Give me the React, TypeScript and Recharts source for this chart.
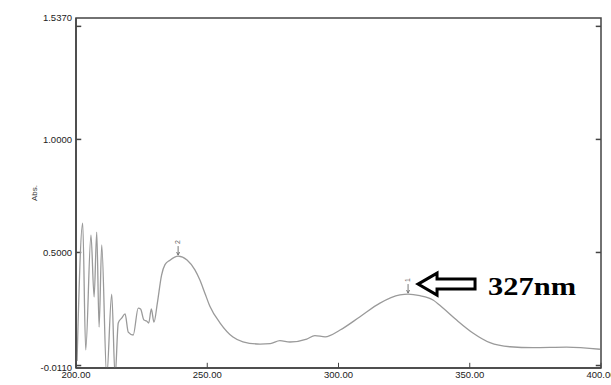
import { LineChart, Line, XAxis, YAxis, ReferenceLine, ReferenceDot, ReferenceArea, Label } from 'recharts';

// wavelength (nm) and absorbance
const wavelengths = [
  200.4, 202.55, 203.7, 205.7, 206.9, 207.9, 208.8, 209.8, 211.7, 213.6, 214.9, 216.1,
  217.4, 218.7, 219.9, 221.8, 223.7, 224.6, 225.9, 226.9, 227.7, 228.7, 229.7, 231.0,
  232.6, 233.9, 235.8, 238.9, 242.3, 245.3, 247.2, 249.1, 251.0, 254.9, 259.8, 263.6,
  270.1, 274.0, 277.7, 281.5, 287.9, 291.0, 294.9, 300.6, 308.2, 315.8, 323.4, 326.5,
  331.0, 336.0, 339.8, 345.0, 351.2, 357.7, 365.3, 374.1, 386.9, 399.6,
];
const absorbance = [
  0.02, 0.63, 0.069, 0.577, 0.303, 0.59, 0.17, 0.533, -0.05, 0.316, -0.05, 0.188,
  0.21, 0.228, 0.148, 0.135, 0.254, 0.25, 0.201, 0.197, 0.188, 0.25, 0.192, 0.277,
  0.4, 0.446, 0.466, 0.484, 0.467, 0.423, 0.378, 0.32, 0.262, 0.188, 0.126, 0.105,
  0.095, 0.097, 0.11, 0.104, 0.117, 0.132, 0.127, 0.157, 0.216, 0.276, 0.312, 0.316,
  0.309, 0.29, 0.254, 0.201, 0.144, 0.101, 0.083, 0.079, 0.081, 0.072,
];

const xTicks = [200, 250, 300, 350, 400];
const yTicks = [-0.011, 0.5, 1.0, 1.537];
const innerYTicks = [0, 0.5, 1.0, 1.5];

const peakNm = [326.5, 238.9];
const peakAbs = [0.316, 0.484];
const peakLabels = ['1', '2'];

const arrowAt = { nm: 330.3, abs: 0.36, text: '327nm' };

const data = wavelengths.map((nm, i) => ({ nm, abs: absorbance[i] }));

const FRAME = '#444';
const SANS = 'Liberation Sans, Arial, sans-serif';
const tickStyle = { fontSize: 9.5, fill: '#222', fontFamily: SANS };

function PeakMark(props: any) {
  const { cx, cy, label } = props;
  return (
    <g>
      <line x1={cx} y1={cy - 10} x2={cx} y2={cy - 1} stroke="#777" strokeWidth={1} />
      <path d={`M${cx - 1.5},${cy - 4} L${cx},${cy - 1} L${cx + 1.5},${cy - 4}`} stroke="#777" fill="none" />
      <text x={cx} y={cy - 14} fontSize={7} fill="#666" textAnchor="middle" dominantBaseline="middle"
        transform={`rotate(-90 ${cx} ${cy - 14})`} fontFamily={SANS}>{label}</text>
    </g>
  );
}

function ArrowNote(props: any) {
  const { cx, cy } = props;
  const pts = [
    [0, 0], [19, -11], [19, -5], [57, -5], [57, 5], [19, 5], [19, 11],
  ].map(([dx, dy]) => `${cx + dx},${cy + dy}`).join(' ');
  return (
    <g>
      <polygon points={pts} fill="#fff" stroke="#000" strokeWidth={3} strokeLinejoin="miter" />
      <text x={cx + 70} y={cy + 11} fontSize={26} fontWeight="bold" fill="#000"
        fontFamily="Liberation Serif, Times New Roman, serif" textLength={88} lengthAdjust="spacingAndGlyphs">
        {arrowAt.text}
      </text>
    </g>
  );
}

export default function App() {
  return (
    <div style={{ position: 'absolute', left: 0, top: 0, background: '#fff' }}>
      <LineChart width={611} height={385} data={data} margin={{ top: 18, right: 10, bottom: 0, left: 0 }}>
        <XAxis dataKey="nm" type="number" domain={[200, 400]} ticks={xTicks} allowDataOverflow
          tickFormatter={(v: number) => v.toFixed(2)} tickLine={false} tickSize={0} tickMargin={3}
          axisLine={{ stroke: FRAME, strokeWidth: 1.5 }} tick={tickStyle} height={17} interval={0}>
          <Label value="nm" position="bottom" offset={0} dy={6} style={{ fontSize: 8, fill: '#333', fontFamily: SANS }} />
        </XAxis>
        <YAxis type="number" domain={[-0.011, 1.537]} ticks={yTicks} allowDataOverflow interval={0}
          tickFormatter={(v: number) => v.toFixed(4)} tickLine={false} tickSize={0} tickMargin={4}
          axisLine={{ stroke: FRAME, strokeWidth: 1.5 }} tick={tickStyle} width={76}>
          <Label value="Abs." angle={-90} position="insideLeft" offset={34}
            style={{ fontSize: 8, fill: '#333', textAnchor: 'middle', fontFamily: SANS }} />
        </YAxis>

        <ReferenceArea x1={200} x2={400} y1={-0.011} y2={1.537} fill="none" stroke={FRAME} strokeWidth={1.5} />

        {innerYTicks.map((v) => (
          <ReferenceLine key={`l${v}`} segment={[{ x: 200, y: v }, { x: 202, y: v }]} stroke={FRAME} strokeWidth={1.5} />
        ))}
        {innerYTicks.map((v) => (
          <ReferenceLine key={`r${v}`} segment={[{ x: 398, y: v }, { x: 400, y: v }]} stroke={FRAME} strokeWidth={1.5} />
        ))}
        {xTicks.map((v) => (
          <ReferenceLine key={`b${v}`} segment={[{ x: v, y: -0.011 }, { x: v, y: 0.012 }]} stroke={FRAME} strokeWidth={1} />
        ))}

        <Line type="monotone" dataKey="abs" stroke="#9a9a9a" strokeWidth={1.3} dot={false} isAnimationActive={false} />

        {peakNm.map((nm, i) => (
          <ReferenceDot key={`p${i}`} x={nm} y={peakAbs[i]} r={0}
            shape={(p: any) => <PeakMark {...p} label={peakLabels[i]} />} />
        ))}
        <ReferenceDot x={arrowAt.nm} y={arrowAt.abs} r={0} shape={(p: any) => <ArrowNote {...p} />} />
      </LineChart>
    </div>
  );
}
